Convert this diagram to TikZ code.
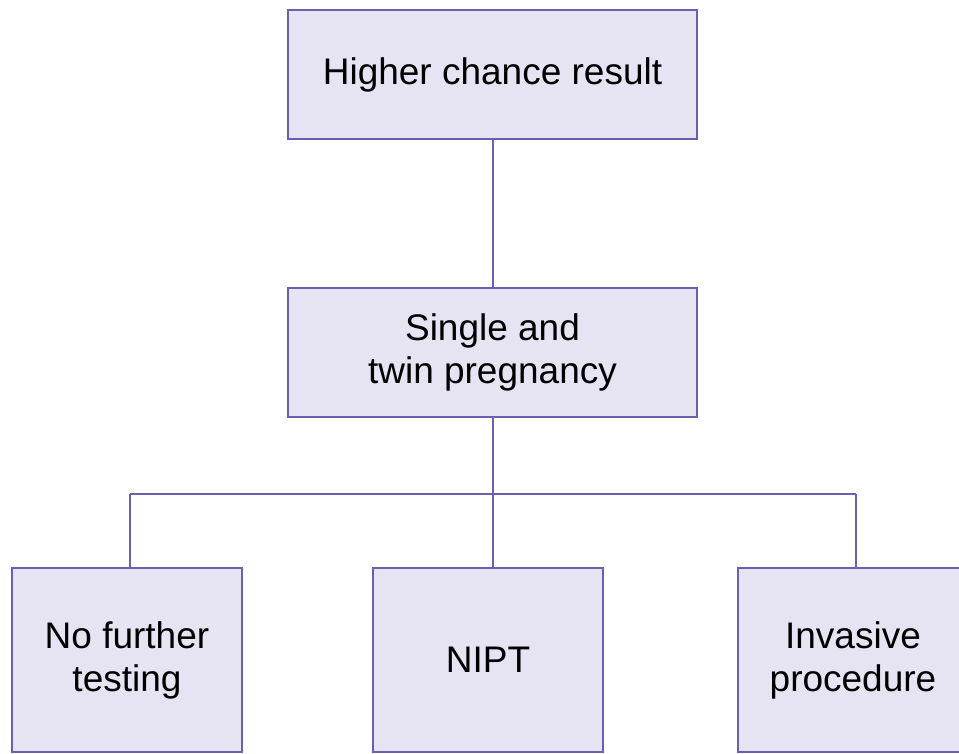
\documentclass[tikz,border=0pt]{standalone}
\usepackage{fontspec}
\setmainfont{Liberation Sans}
\definecolor{boxfill}{HTML}{E6E4F3}
\definecolor{boxline}{HTML}{6E5EB0}
\begin{document}
\begin{tikzpicture}[x=1pt,y=-1pt,
  box/.style={draw=boxline, fill=boxfill, line width=2.8pt, rectangle, inner sep=0pt,
    align=center, font=\fontsize{37}{43}\selectfont, text=black},
  wide/.style={box, minimum width=409pt, minimum height=129pt},
  leaf/.style={box, minimum width=230pt, minimum height=184pt},
  conn/.style={draw=boxline, line width=2.8pt}]
\useasboundingbox (0,0) rectangle (959,753);
\clip (0,0) rectangle (959,753);
\node[wide] (top) at (492.5,74.5) {Higher chance result};
\node[wide] (mid) at (492.5,352.5) {Single and\\twin pregnancy};
\node[leaf] (left) at (127,660) {No further\\testing};
\node[leaf] (nipt) at (488,660) {NIPT};
\node[leaf] (right) at (853,660) {Invasive\\procedure};
\coordinate (jl) at (130,494);
\coordinate (jm) at (493,494);
\coordinate (jr) at (856,494);
\draw[conn] (top.south -| jm) -- (mid.north -| jm);
\draw[conn] (mid.south -| jm) -- (jm);
\draw[conn] (jl) -- (jr);
\draw[conn] (jl) -- (left.north -| jl);
\draw[conn] (jm) -- (nipt.north -| jm);
\draw[conn] (jr) -- (right.north -| jr);
\end{tikzpicture}
\end{document}
